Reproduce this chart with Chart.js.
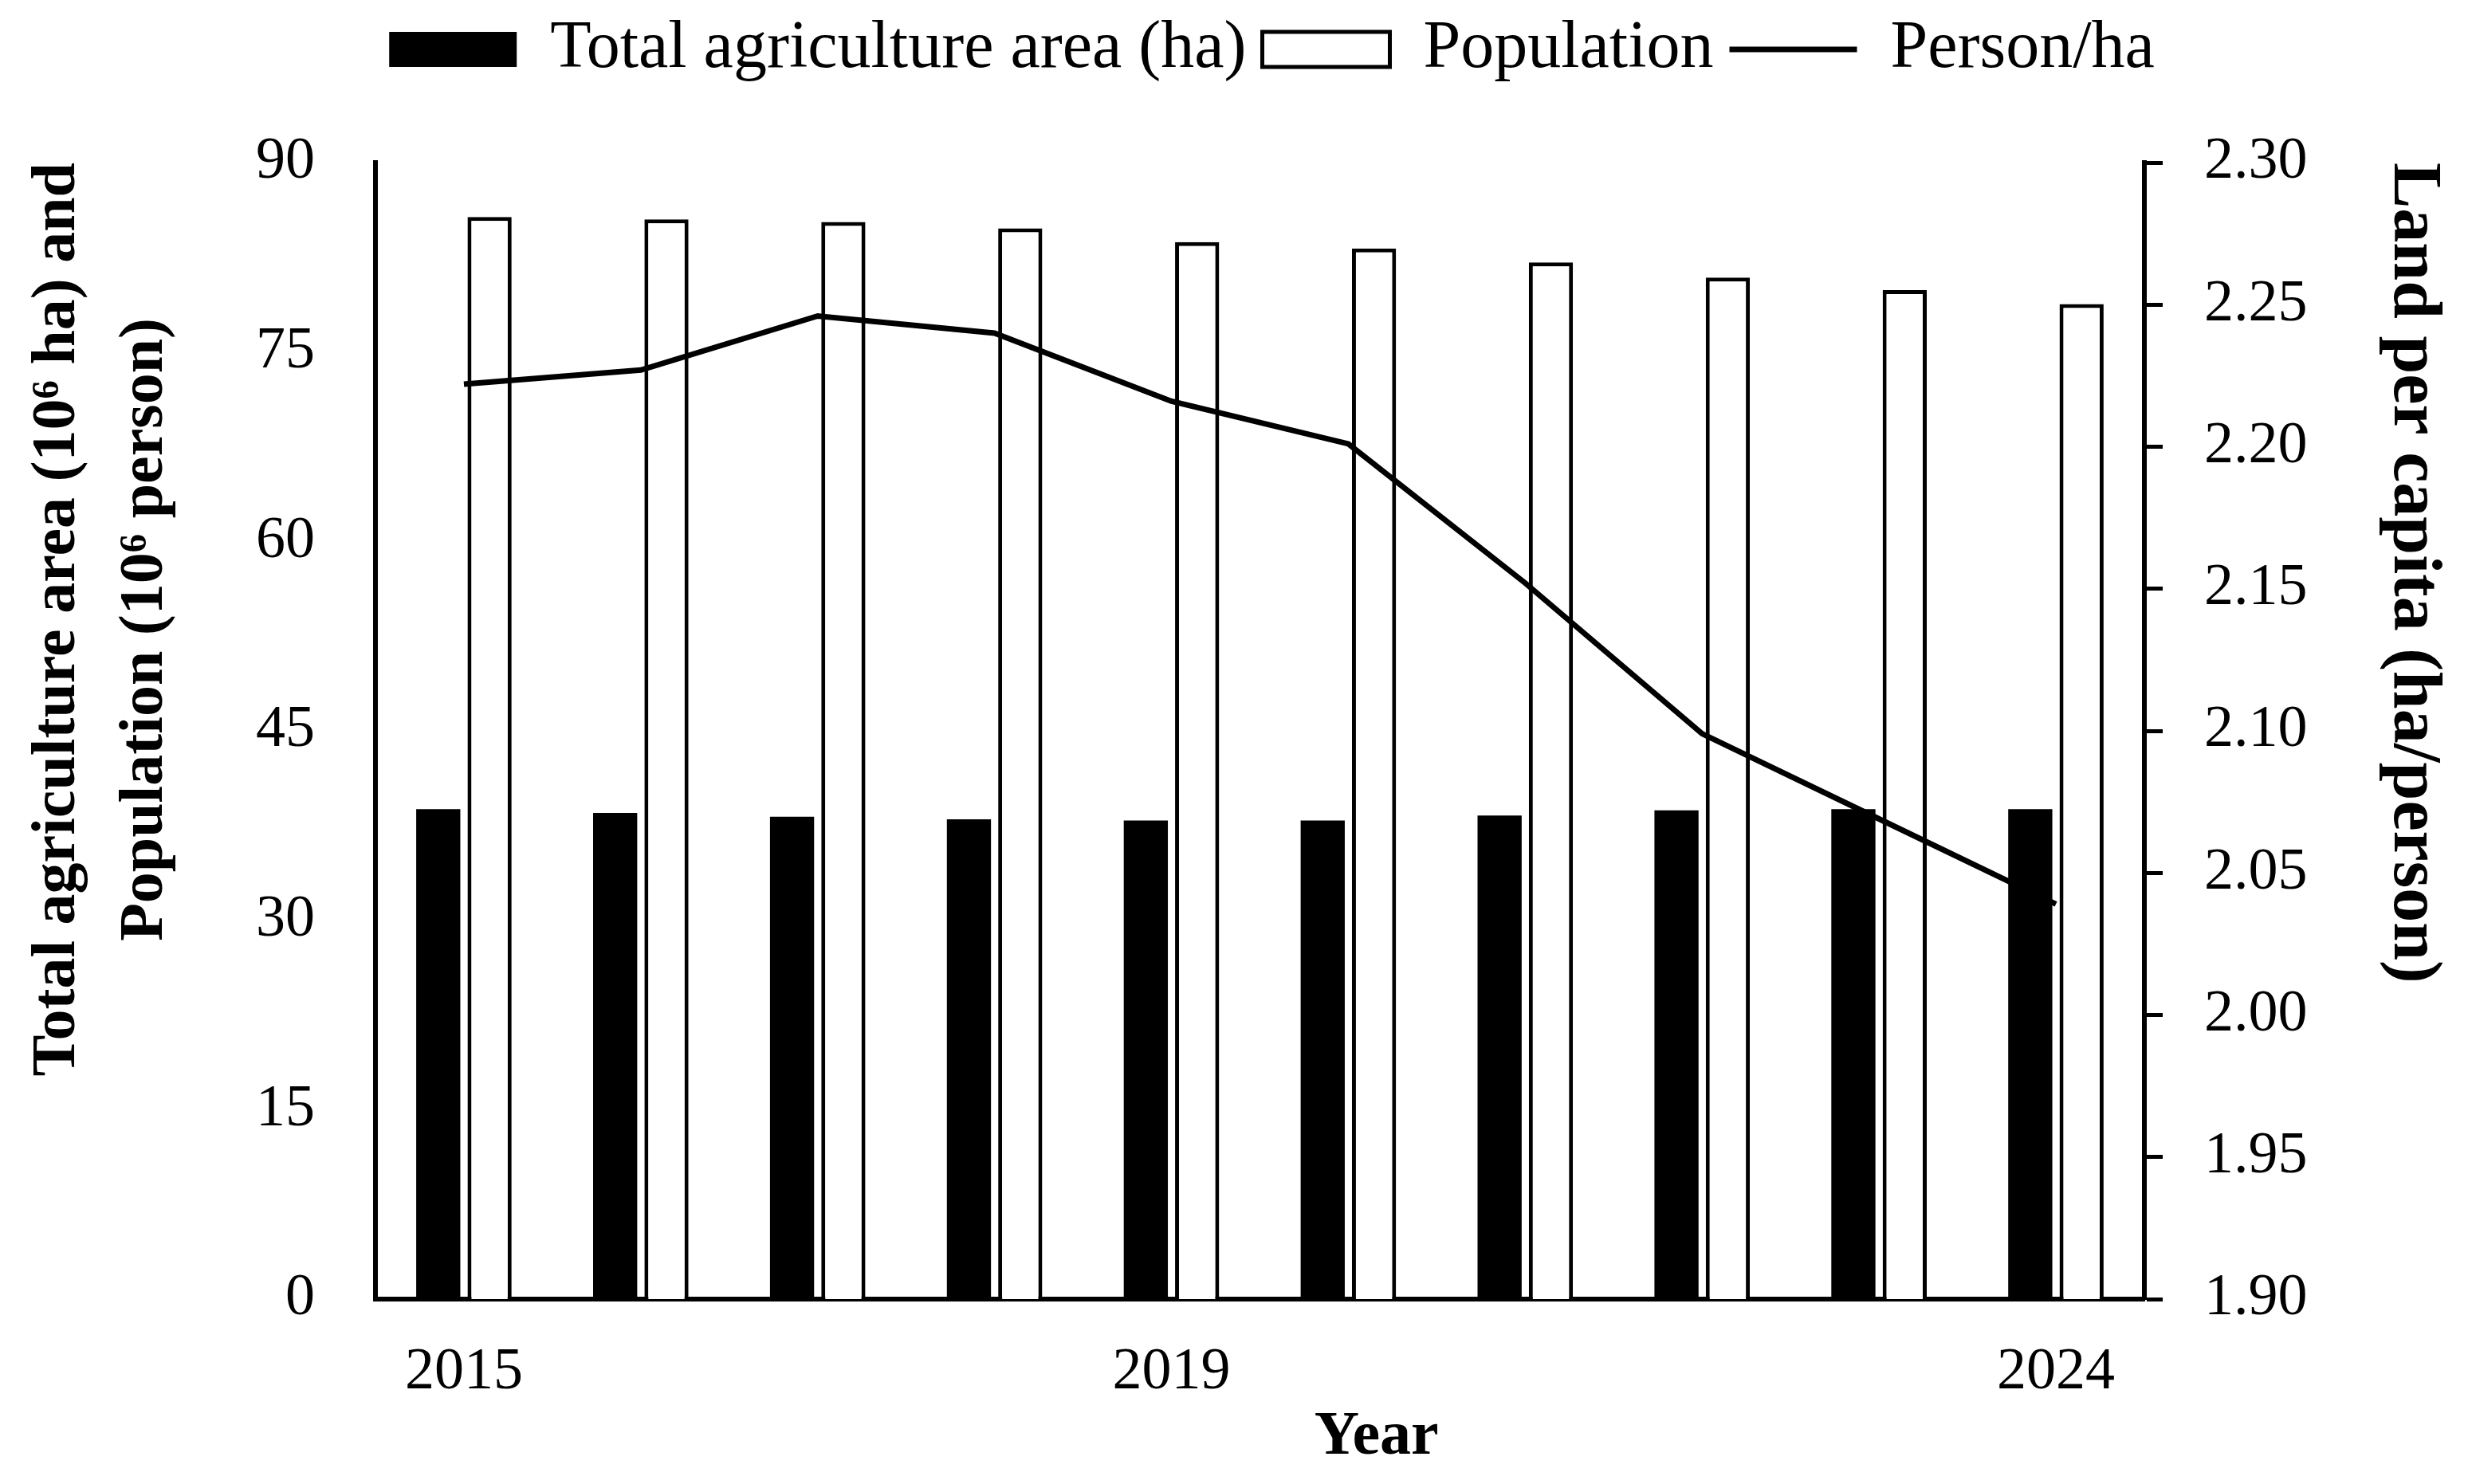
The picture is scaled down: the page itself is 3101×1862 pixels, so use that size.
<!DOCTYPE html>
<html>
<head>
<meta charset="utf-8">
<script src="https://cdn.jsdelivr.net/npm/chart.js@4.4.1/dist/chart.umd.min.js"></script>
<style>
  html, body { margin: 0; padding: 0; background: #ffffff; }
  #wrap { width: 3101px; height: 1862px; }
</style>
</head>
<body>
<div id="wrap"><canvas id="landChart"></canvas></div>
<script>
// Years on the x axis and the three series
const years = ['2015', '2016', '2017', '2018', '2019', '2020', '2021', '2022', '2023', '2024'];
const agriArea = [38.8, 38.5, 38.2, 38.0, 37.9, 37.9, 38.3, 38.7, 38.8, 38.8];      // 10^6 ha
const population = [85.7, 85.5, 85.3, 84.8, 83.7, 83.2, 82.1, 80.9, 79.9, 78.8];    // 10^6 person
const landPerCapita = [2.222, 2.227, 2.246, 2.240, 2.216, 2.201, 2.152, 2.099, 2.069, 2.039]; // ha/person

// Only these years get a label under the axis
const shownYears = ['2015', '2019', '2024'];

const serif = 'Liberation Serif';

// Legend: leave room below it so the plot starts lower, and nudge it a bit to the right
const legendGap = {
    id: 'legendGap',
    afterInit(chart) {
        const fit = chart.legend.fit;
        chart.legend.fit = function () {
            fit.call(this);
            this.height = 204;
            if (this.lineWidths) this.lineWidths[0] -= 90;
        };
    }
};

const ctx = document.getElementById('landChart').getContext('2d');
new Chart(ctx, {
    type: 'bar',
    data: {
        labels: years,
        datasets: [
            {
                label: 'Total agriculture area (ha)',
                data: agriArea,
                backgroundColor: '#000000',
                borderColor: '#000000',
                borderWidth: 0,
                pointStyle: 'rect',
                yAxisID: 'y',
                order: 1
            },
            {
                label: 'Population',
                data: population,
                backgroundColor: '#ffffff',
                borderColor: '#000000',
                borderWidth: 5,
                pointStyle: 'rect',
                yAxisID: 'y',
                order: 1
            },
            {
                type: 'line',
                label: 'Person/ha',
                data: landPerCapita,
                borderColor: '#000000',
                backgroundColor: '#000000',
                borderWidth: 7,
                pointRadius: 0,
                pointStyle: 'line',
                tension: 0,
                yAxisID: 'y1',
                order: 0 // drawn over the bars
            }
        ]
    },
    options: {
        responsive: true,
        maintainAspectRatio: false,
        devicePixelRatio: 1,
        animation: false,
        layout: { padding: { top: 0, left: 0, right: 0, bottom: 0 } },
        datasets: {
            bar: { categoryPercentage: 0.58, barPercentage: 0.86 }
        },
        plugins: {
            tooltip: { enabled: false },
            legend: {
                position: 'top',
                labels: {
                    color: '#000000',
                    font: { family: serif, size: 84 },
                    usePointStyle: true,
                    pointStyleWidth: 160,
                    boxHeight: 44,
                    padding: 20,
                    sort: (a, b) => a.datasetIndex - b.datasetIndex
                }
            }
        },
        scales: {
            x: {
                grid: { display: false },
                border: { display: true, color: '#000000', width: 6 },
                ticks: {
                    color: '#000000',
                    font: { family: serif, size: 74 },
                    padding: 40,
                    autoSkip: false,
                    maxRotation: 0,
                    callback: function (value, index) {
                        const year = years[index];
                        return shownYears.includes(year) ? year : '';
                    }
                },
                title: {
                    display: true,
                    text: '               Year',
                    color: '#000000',
                    font: { family: serif, size: 78, weight: 'bold' },
                    padding: { top: 0, bottom: 11 }
                },
                afterFit: (scale) => { scale.height = 232; }
            },
            y: {
                position: 'left',
                min: 0,
                max: 90,
                grid: { display: false, drawTicks: false },
                border: { display: true, color: '#000000', width: 6 },
                ticks: {
                    stepSize: 15,
                    color: '#000000',
                    font: { family: serif, size: 74 },
                    padding: 76
                },
                title: {
                    display: true,
                    align: 'end',
                    text: ['Total agriculture area (10\u2076 ha) and', 'Population (10\u2076 person)          '],
                    color: '#000000',
                    font: { family: serif, size: 78, weight: 'bold', lineHeight: 1.41 },
                    padding: { top: 18, bottom: 0 }
                },
                afterFit: (scale) => { scale.width = 471; }
            },
            y1: {
                position: 'right',
                min: 1.9,
                max: 2.3,
                grid: {
                    display: true,
                    drawOnChartArea: false,
                    drawTicks: true,
                    tickLength: 23,
                    tickWidth: 5,
                    tickColor: '#000000',
                    color: '#000000'
                },
                border: { display: true, color: '#000000', width: 6 },
                ticks: {
                    stepSize: 0.05,
                    color: '#000000',
                    font: { family: serif, size: 74 },
                    padding: 52,
                    callback: (value) => Number(value).toFixed(2)
                },
                title: {
                    display: true,
                    align: 'end',
                    text: 'Land per capita (ha/person)',
                    color: '#000000',
                    font: { family: serif, size: 86, weight: 'bold' },
                    padding: { top: 23, bottom: 0 }
                },
                afterFit: (scale) => { scale.width = 411; }
            }
        }
    },
    plugins: [legendGap]
});
</script>
</body>
</html>
